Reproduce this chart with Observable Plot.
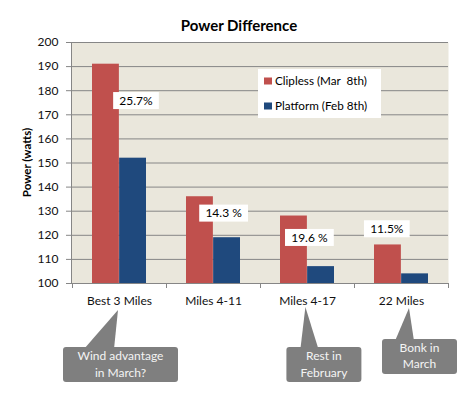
<!DOCTYPE html>
<html><head><meta charset="utf-8">
<script src="https://cdn.jsdelivr.net/npm/d3@7"></script>
<script src="https://cdn.jsdelivr.net/npm/@observablehq/plot@0.6"></script>
<style>
html,body{margin:0;padding:0;background:#fff;}
#chart svg{display:block;}
#chart g[aria-label^="x-axis"] text, #chart g[aria-label^="y-axis"] text{fill:#111;}
</style></head><body><div id="chart"></div>
<script>
// ---- data ----
const categories = ["Best 3 Miles", "Miles 4-11", "Miles 4-17", "22 Miles"];
const clipless = [191, 136, 128, 116];
const platform = [152, 119, 107, 104];
const diffLabels = ["25.7%", "14.3 %", "19.6 %", "11.5%"];
const seriesNames = ["Clipless (Mar  8th)", "Platform (Feb 8th)"];
const yTicks = [100, 110, 120, 130, 140, 150, 160, 170, 180, 190, 200];
const calloutCategories = ["Best 3 Miles", "Miles 4-17", "22 Miles"];
const calloutLines = [["Wind advantage", "in March?"], ["Rest in", "February"], ["Bonk in", "March"]];
const titleText = "Power Difference";
const yLabel = "Power (watts)";

// ---- layout / style ----
const W = 464, H = 395, ML = 71, MR = 16, MT = 42, MB = 112;
const colors = ["#C0504D", "#1F497D"];
const bgPlot = "#EAE7DC", gridColor = "#868686", calloutFill = "#7F7F7F";
const FONT = "Lato, 'Open Sans', sans-serif";
const labelLayout = [{dx: 17, y: 175.7}, {dx: 10.6, y: 129}, {dx: 2.4, y: 118.9}, {dx: -14.2, y: 122.5}];
const calloutLayout = [
  {left: -56, w: 115, top: 347, h: 35, tip: [-1, 310], base: [-35, -5], lines: [-8.5, 8.5]},
  {left: -20.6, w: 75, top: 347, h: 35, tip: [-1.6, 307], base: [-6.6, 11.4], lines: [-8.5, 8.5]},
  {left: -19, w: 75, top: 339, h: 35, tip: [8, 308], base: [-6, 13], lines: [-8.5, 7.5]}
];

const bw0 = (W - ML - MR) / categories.length;
const inner = 20, half = bw0 / 2;
const redData = categories.map((c, i) => ({c, v: clipless[i]}));
const blueData = categories.map((c, i) => ({c, v: platform[i]}));

const plot = Plot.plot({
  width: W, height: H,
  marginLeft: ML, marginRight: MR, marginTop: MT, marginBottom: MB,
  style: {fontFamily: FONT, fontSize: "12px", color: gridColor, background: "white"},
  x: {domain: categories, padding: 0, label: null, tickSize: 0, tickPadding: 12.5},
  y: {domain: [100, 200], ticks: yTicks, tickSize: 5, tickPadding: 8, label: null, tickFormat: d => String(d)},
  marks: [
    Plot.frame({fill: bgPlot, stroke: null}),
    Plot.ruleY(yTicks, {stroke: gridColor, strokeWidth: 1}),
    Plot.barY(redData, {x: "c", y1: d => 100, y2: "v", fill: colors[0], insetLeft: inner, insetRight: half}),
    Plot.barY(blueData, {x: "c", y1: d => 100, y2: "v", fill: colors[1], insetLeft: half, insetRight: inner})
  ]
});
document.getElementById("chart").appendChild(plot);

const svg = d3.select(plot);
const xs = plot.scale("x"), ys = plot.scale("y");
const bw = xs.bandwidth;
const cx = c => xs.apply(c) + bw / 2;
const y0 = ys.apply(100), yTop = ys.apply(200);

// y axis line
svg.append("line").attr("x1", ML + 0.5).attr("x2", ML + 0.5).attr("y1", yTop).attr("y2", y0)
  .attr("stroke", gridColor);
// x boundary ticks
const bounds = categories.map(c => xs.apply(c)).concat([xs.apply(categories[categories.length - 1]) + bw]);
svg.append("g").selectAll("line").data(bounds).join("line")
  .attr("x1", d => Math.round(d) + 0.5).attr("x2", d => Math.round(d) + 0.5)
  .attr("y1", y0).attr("y2", y0 + 5).attr("stroke", gridColor);

// title
svg.append("text").attr("x", 239).attr("y", 31).attr("text-anchor", "middle")
  .style("font-family", FONT).style("font-size", "15px").style("font-weight", "bold").style("fill", "#000")
  .text(titleText);
// y label
svg.append("text").attr("transform", `translate(31,${(yTop + y0) / 2}) rotate(-90)`).attr("text-anchor", "middle")
  .style("font-family", FONT).style("font-size", "11.5px").style("font-weight", "bold").style("fill", "#000")
  .text(yLabel);

// percent labels with white boxes
categories.forEach((c, i) => {
  const g = svg.append("g");
  const x = cx(c) + labelLayout[i].dx, y = ys.apply(labelLayout[i].y);
  const rect = g.append("rect").attr("fill", "white");
  const t = g.append("text").attr("x", x).attr("y", y).attr("dy", "0.35em").attr("text-anchor", "middle")
    .style("font-family", FONT).style("font-size", "12px").style("fill", "#000").text(diffLabels[i]);
  const bb = t.node().getBBox();
  rect.attr("x", x - bb.width / 2 - 6).attr("y", y - 8.5).attr("width", bb.width + 12).attr("height", 17);
});

// legend
const lg = svg.append("g").attr("transform", `translate(${ML + 187},${MT + 27})`);
lg.append("rect").attr("width", 123).attr("height", 49).attr("fill", "white");
seriesNames.forEach((s, i) => {
  lg.append("rect").attr("x", 6).attr("y", 8.5 + 25 * i).attr("width", 8).attr("height", 7).attr("fill", colors[i]);
  lg.append("text").attr("x", 17).attr("y", 12 + 25 * i).attr("dy", "0.35em").attr("text-anchor", "start")
    .style("font-family", FONT).style("font-size", "11.7px").style("fill", "#000")
    .style("white-space", "pre").text(s);
});

// callouts
calloutCategories.forEach((c, i) => {
  const L = calloutLayout[i], x = cx(c);
  const g = svg.append("g");
  g.append("path").attr("fill", calloutFill)
    .attr("d", `M${x + L.tip[0]},${L.tip[1]}L${x + L.base[0]},${L.top + 2}L${x + L.base[1]},${L.top + 2}Z`);
  g.append("rect").attr("x", x + L.left).attr("y", L.top).attr("width", L.w).attr("height", L.h)
    .attr("rx", 3).attr("fill", calloutFill);
  calloutLines[i].forEach((ln, j) => {
    g.append("text").attr("x", x + L.left + L.w / 2).attr("y", L.top + L.h / 2 + L.lines[j]).attr("dy", "0.35em")
      .attr("text-anchor", "middle").style("font-family", FONT).style("font-size", "12px").style("fill", "#F4F4F4")
      .text(ln);
  });
});
</script></body></html>
